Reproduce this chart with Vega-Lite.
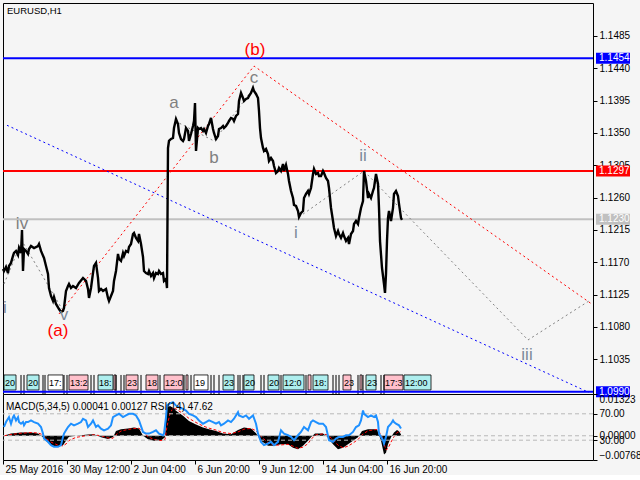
{
"$schema": "https://vega.github.io/schema/vega-lite/v6.json",
"background": "#f5f5f5",
"padding": {"left": -3, "top": 2, "right": 0, "bottom": 0},
"spacing": 0,
"bounds": "flush",
"config": {
  "font": "Liberation Sans",
  "view": {"stroke": "#000000", "strokeWidth": 1, "fill": "#f5f5f5"},
  "axis": {"labelFont": "Liberation Sans", "labelFontSize": 10, "labelColor": "#000000", "tickColor": "#000000", "domain": false, "grid": false, "tickSize": 4, "labelPadding": 2, "labelOverlap": false}
},
"datasets": {
  "px": [{"i":0,"p":1.11607},{"i":1,"p":1.11579},{"i":3,"p":1.11635},{"i":5,"p":1.11551},{"i":6,"p":1.11649},{"i":8,"p":1.11691},{"i":10,"p":1.11788},{"i":11,"p":1.1183},{"i":13,"p":1.11858},{"i":15,"p":1.11802},{"i":16,"p":1.11899},{"i":18,"p":1.1183},{"i":19,"p":1.1215},{"i":20,"p":1.11579},{"i":21,"p":1.11885},{"i":23,"p":1.11858},{"i":25,"p":1.11816},{"i":26,"p":1.11885},{"i":28,"p":1.11927},{"i":31,"p":1.11899},{"i":35,"p":1.11927},{"i":36,"p":1.11955},{"i":38,"p":1.11858},{"i":41,"p":1.1176},{"i":43,"p":1.11649},{"i":45,"p":1.11537},{"i":46,"p":1.11342},{"i":48,"p":1.11231},{"i":50,"p":1.11162},{"i":51,"p":1.11217},{"i":53,"p":1.1112},{"i":56,"p":1.1105},{"i":58,"p":1.11008},{"i":60,"p":1.11022},{"i":61,"p":1.11064},{"i":63,"p":1.11301},{"i":65,"p":1.1137},{"i":66,"p":1.11398},{"i":68,"p":1.11342},{"i":70,"p":1.1137},{"i":73,"p":1.11342},{"i":76,"p":1.11412},{"i":80,"p":1.11482},{"i":83,"p":1.1144},{"i":85,"p":1.11329},{"i":86,"p":1.11204},{"i":88,"p":1.11342},{"i":90,"p":1.11551},{"i":91,"p":1.11649},{"i":93,"p":1.11691},{"i":95,"p":1.11482},{"i":96,"p":1.11301},{"i":98,"p":1.11329},{"i":100,"p":1.11301},{"i":103,"p":1.11329},{"i":105,"p":1.11204},{"i":106,"p":1.11162},{"i":108,"p":1.11231},{"i":110,"p":1.11301},{"i":111,"p":1.1144},{"i":113,"p":1.11579},{"i":115,"p":1.11816},{"i":116,"p":1.11746},{"i":118,"p":1.11718},{"i":120,"p":1.1183},{"i":121,"p":1.11788},{"i":123,"p":1.11858},{"i":125,"p":1.11844},{"i":126,"p":1.11913},{"i":128,"p":1.11955},{"i":130,"p":1.12094},{"i":131,"p":1.12108},{"i":133,"p":1.12039},{"i":135,"p":1.11997},{"i":136,"p":1.12094},{"i":138,"p":1.11955},{"i":140,"p":1.11774},{"i":141,"p":1.11579},{"i":143,"p":1.11551},{"i":145,"p":1.11537},{"i":146,"p":1.11579},{"i":148,"p":1.1151},{"i":150,"p":1.11551},{"i":151,"p":1.11482},{"i":153,"p":1.11551},{"i":155,"p":1.11537},{"i":156,"p":1.11579},{"i":158,"p":1.11537},{"i":160,"p":1.11551},{"i":161,"p":1.1144},{"i":163,"p":1.11468},{"i":164,"p":1.11342},{"i":165,"p":1.13291},{"i":166,"p":1.13389},{"i":168,"p":1.13416},{"i":170,"p":1.1343},{"i":171,"p":1.13569},{"i":173,"p":1.13695},{"i":175,"p":1.13625},{"i":176,"p":1.135},{"i":178,"p":1.13416},{"i":180,"p":1.13389},{"i":181,"p":1.13416},{"i":183,"p":1.13569},{"i":185,"p":1.13528},{"i":186,"p":1.13389},{"i":188,"p":1.13486},{"i":190,"p":1.13597},{"i":191,"p":1.13667},{"i":192,"p":1.13917},{"i":193,"p":1.13249},{"i":195,"p":1.13569},{"i":196,"p":1.13555},{"i":198,"p":1.13569},{"i":200,"p":1.13528},{"i":201,"p":1.13555},{"i":203,"p":1.135},{"i":205,"p":1.13597},{"i":206,"p":1.13625},{"i":208,"p":1.13709},{"i":210,"p":1.13555},{"i":211,"p":1.135},{"i":213,"p":1.13416},{"i":215,"p":1.13458},{"i":216,"p":1.13555},{"i":218,"p":1.13569},{"i":220,"p":1.13597},{"i":221,"p":1.13569},{"i":223,"p":1.13597},{"i":225,"p":1.13639},{"i":226,"p":1.13667},{"i":228,"p":1.13709},{"i":230,"p":1.13695},{"i":231,"p":1.13667},{"i":233,"p":1.13736},{"i":235,"p":1.13764},{"i":236,"p":1.13945},{"i":238,"p":1.14057},{"i":240,"p":1.13987},{"i":241,"p":1.13945},{"i":243,"p":1.13973},{"i":245,"p":1.13987},{"i":246,"p":1.14015},{"i":248,"p":1.14057},{"i":250,"p":1.14128},{"i":251,"p":1.14084},{"i":253,"p":1.14043},{"i":255,"p":1.13987},{"i":256,"p":1.13806},{"i":257,"p":1.13569},{"i":258,"p":1.1343},{"i":260,"p":1.13291},{"i":261,"p":1.13249},{"i":263,"p":1.13277},{"i":265,"p":1.13207},{"i":266,"p":1.1311},{"i":268,"p":1.13152},{"i":270,"p":1.1311},{"i":271,"p":1.13041},{"i":273,"p":1.12943},{"i":275,"p":1.12971},{"i":276,"p":1.13013},{"i":278,"p":1.12971},{"i":280,"p":1.13068},{"i":281,"p":1.12971},{"i":283,"p":1.13054},{"i":285,"p":1.12929},{"i":286,"p":1.12832},{"i":288,"p":1.12693},{"i":290,"p":1.12595},{"i":291,"p":1.12498},{"i":293,"p":1.12484},{"i":295,"p":1.12414},{"i":296,"p":1.12331},{"i":298,"p":1.12386},{"i":300,"p":1.12414},{"i":301,"p":1.12595},{"i":303,"p":1.12651},{"i":305,"p":1.12693},{"i":306,"p":1.12651},{"i":308,"p":1.12734},{"i":310,"p":1.12929},{"i":311,"p":1.12999},{"i":313,"p":1.12929},{"i":315,"p":1.12943},{"i":316,"p":1.12901},{"i":318,"p":1.12901},{"i":320,"p":1.12971},{"i":321,"p":1.12943},{"i":323,"p":1.12874},{"i":325,"p":1.12832},{"i":326,"p":1.12734},{"i":328,"p":1.12456},{"i":330,"p":1.12275},{"i":331,"p":1.12178},{"i":333,"p":1.12066},{"i":335,"p":1.12136},{"i":336,"p":1.12094},{"i":338,"p":1.12039},{"i":340,"p":1.12108},{"i":341,"p":1.12066},{"i":343,"p":1.11997},{"i":345,"p":1.12039},{"i":346,"p":1.11955},{"i":348,"p":1.12094},{"i":350,"p":1.12136},{"i":351,"p":1.12233},{"i":353,"p":1.12275},{"i":355,"p":1.12233},{"i":356,"p":1.12317},{"i":358,"p":1.12456},{"i":360,"p":1.12553},{"i":361,"p":1.12971},{"i":363,"p":1.12832},{"i":365,"p":1.12595},{"i":366,"p":1.12651},{"i":368,"p":1.12595},{"i":370,"p":1.12693},{"i":371,"p":1.12734},{"i":373,"p":1.12929},{"i":375,"p":1.1279},{"i":376,"p":1.12456},{"i":377,"p":1.11997},{"i":379,"p":1.11621},{"i":381,"p":1.11398},{"i":382,"p":1.11273},{"i":383,"p":1.11537},{"i":384,"p":1.11997},{"i":385,"p":1.12317},{"i":386,"p":1.12414},{"i":388,"p":1.12275},{"i":390,"p":1.12456},{"i":391,"p":1.12651},{"i":393,"p":1.12693},{"i":395,"p":1.12623},{"i":396,"p":1.12512},{"i":398,"p":1.12317},{"i":399,"p":1.1229}],
  "levels": [{"p":1.1454,"k":"b"},{"p":1.1297,"k":"r"},{"p":1.1230,"k":"g"},{"p":1.0990,"k":"b"}],
  "trend": [
    {"i":56,"p":1.10981,"s":"red","k":"r"},{"i":251,"p":1.14432,"s":"red","k":"r"},{"i":588,"p":1.11127,"s":"red","k":"r"},
    {"i":4,"p":1.13607,"s":"blue","k":"b"},{"i":586,"p":1.09888,"s":"blue","k":"b"},
    {"i":1,"p":1.11398,"s":"g1","k":"d"},{"i":19,"p":1.11997,"s":"g1","k":"d"},{"i":59,"p":1.1105,"s":"g1","k":"d"},
    {"i":172,"p":1.13667,"s":"g2","k":"d"},{"i":211,"p":1.13389,"s":"g2","k":"d"},{"i":250,"p":1.14112,"s":"g2","k":"d"},
    {"i":296,"p":1.12331,"s":"g3","k":"d"},{"i":361,"p":1.12971,"s":"g3","k":"d"},{"i":525,"p":1.10619,"s":"g3","k":"d"},{"i":586,"p":1.11162,"s":"g3","k":"d"}
  ],
  "waves": [
    {"i":252,"p":1.14655,"t":"(b)","k":"r"},{"i":251,"p":1.14265,"t":"c","k":"d"},{"i":171,"p":1.13917,"t":"a","k":"d"},{"i":211,"p":1.13152,"t":"b","k":"d"},
    {"i":19,"p":1.12233,"t":"iv","k":"d"},{"i":293,"p":1.12108,"t":"i","k":"s"},{"i":360,"p":1.1318,"t":"ii","k":"s"},{"i":524,"p":1.1041,"t":"iii","k":"s"},
    {"i":61,"p":1.10967,"t":"v","k":"s"},{"i":55,"p":1.10744,"t":"(a)","k":"r"}
  ],
  "sess": [
    {"a":1,"b":13,"t":"20","c":"c"},{"a":24,"b":36,"t":"20","c":"c"},{"a":45,"b":60,"t":"17:","c":"w"},{"a":66,"b":85,"t":"13:2","c":"p"},
    {"a":95,"b":110,"t":"18:","c":"c"},{"a":111,"b":113,"t":"","c":"p"},{"a":123,"b":135,"t":"23","c":"p"},{"a":143,"b":155,"t":"18","c":"p"},
    {"a":161,"b":180,"t":"12:0","c":"p"},{"a":183,"b":185,"t":"","c":"p"},{"a":191,"b":205,"t":"19","c":"w"},{"a":220,"b":231,"t":"23","c":"c"},
    {"a":241,"b":251,"t":"20","c":"c"},{"a":265,"b":276,"t":"20","c":"c"},{"a":280,"b":301,"t":"12:0","c":"c"},{"a":305,"b":308,"t":"","c":"p"},
    {"a":310,"b":325,"t":"18:","c":"c"},{"a":340,"b":348,"t":"23","c":"p"},{"a":357,"b":359,"t":"","c":"p"},{"a":363,"b":373,"t":"23","c":"c"},
    {"a":381,"b":400,"t":"17:3","c":"p"},{"a":401,"b":428,"t":"12:00","c":"c"}
  ],
  "seps": [{"i":18},{"i":21},{"i":40},{"i":42},{"i":61},{"i":64},{"i":88},{"i":91},{"i":113},{"i":118},{"i":121},{"i":138},{"i":157},{"i":181},{"i":188},{"i":208},{"i":211},{"i":216},{"i":235},{"i":237},{"i":240},{"i":258},{"i":261},{"i":278},{"i":303},{"i":330},{"i":333},{"i":336},{"i":355},{"i":360},{"i":378},{"i":381}],
  "macd": [{"i":1,"m":0,"s":0},{"i":8,"m":0.0007,"s":0.0004},{"i":18,"m":0.001,"s":0.0008},{"i":28,"m":0.001,"s":0.001},{"i":35,"m":0.0007,"s":0.0009},{"i":40,"m":-0.0005,"s":0.0003},{"i":43,"m":-0.0016,"s":-0.0008},{"i":48,"m":-0.003,"s":-0.002},{"i":55,"m":-0.0035,"s":-0.003},{"i":60,"m":-0.003,"s":-0.0032},{"i":63,"m":-0.0016,"s":-0.0026},{"i":66,"m":-0.0003,"s":-0.0015},{"i":73,"m":0,"s":-0.0005},{"i":85,"m":0.0004,"s":0.0001},{"i":91,"m":0.0005,"s":0.0003},{"i":98,"m":-0.0005,"s":0},{"i":105,"m":-0.001,"s":-0.0007},{"i":110,"m":-0.0005,"s":-0.0008},{"i":113,"m":0.0015,"s":0.0003},{"i":118,"m":0.0021,"s":0.0015},{"i":125,"m":0.0023,"s":0.002},{"i":131,"m":0.0026,"s":0.0023},{"i":136,"m":0.0023,"s":0.0024},{"i":140,"m":0,"s":0.0012},{"i":145,"m":-0.0011,"s":-0.0003},{"i":151,"m":-0.0016,"s":-0.0012},{"i":158,"m":-0.0015,"s":-0.0015},{"i":162,"m":-0.0005,"s":-0.0012},{"i":164,"m":0.0089,"s":0.003},{"i":167,"m":0.0094,"s":0.007},{"i":170,"m":0.0089,"s":0.0088},{"i":173,"m":0.0079,"s":0.0085},{"i":180,"m":0.0063,"s":0.007},{"i":186,"m":0.0047,"s":0.0055},{"i":193,"m":0.0036,"s":0.0042},{"i":200,"m":0.0026,"s":0.0031},{"i":206,"m":0.0021,"s":0.0024},{"i":213,"m":0.0015,"s":0.0018},{"i":220,"m":0.0007,"s":0.001},{"i":228,"m":0.0005,"s":0.0007},{"i":235,"m":0.0018,"s":0.0012},{"i":241,"m":0.0026,"s":0.0021},{"i":248,"m":0.0023,"s":0.0023},{"i":253,"m":0.0008,"s":0.0016},{"i":258,"m":-0.0016,"s":-0.0002},{"i":265,"m":-0.0032,"s":-0.0022},{"i":271,"m":-0.0032,"s":-0.003},{"i":278,"m":-0.0027,"s":-0.0029},{"i":285,"m":-0.0027,"s":-0.0027},{"i":290,"m":-0.0038,"s":-0.0033},{"i":295,"m":-0.0043,"s":-0.004},{"i":300,"m":-0.0032,"s":-0.0036},{"i":305,"m":-0.0016,"s":-0.0025},{"i":308,"m":-0.0005,"s":-0.0012},{"i":312,"m":0.0007,"s":0.0002},{"i":320,"m":0.0007,"s":0.0006},{"i":324,"m":-0.0002,"s":0.0003},{"i":330,"m":-0.0027,"s":-0.0012},{"i":335,"m":-0.0043,"s":-0.003},{"i":340,"m":-0.0038,"s":-0.0038},{"i":345,"m":-0.0027,"s":-0.0033},{"i":350,"m":-0.0016,"s":-0.0023},{"i":355,"m":-0.0005,"s":-0.0012},{"i":359,"m":0.0015,"s":0.0003},{"i":365,"m":0.0021,"s":0.0016},{"i":374,"m":0.0021,"s":0.002},{"i":378,"m":-0.0016,"s":0.0005},{"i":381,"m":-0.0059,"s":-0.0025},{"i":383,"m":-0.0054,"s":-0.0045},{"i":385,"m":-0.0027,"s":-0.004},{"i":388,"m":-0.0005,"s":-0.002},{"i":391,"m":0.001,"s":-0.0003},{"i":394,"m":0.0018,"s":0.001},{"i":396,"m":0.0014,"s":0.0013},{"i":398,"m":0.00041,"s":0.00127}],
  "rsi": [{"i":1,"r":50},{"i":3,"r":57.5},{"i":6,"r":65},{"i":8,"r":55},{"i":10,"r":65},{"i":11,"r":67.5},{"i":13,"r":60},{"i":15,"r":65},{"i":16,"r":57.5},{"i":18,"r":55},{"i":20,"r":57.5},{"i":21,"r":52.5},{"i":23,"r":57.5},{"i":25,"r":57.5},{"i":28,"r":60},{"i":31,"r":57.5},{"i":35,"r":55},{"i":38,"r":50},{"i":40,"r":40},{"i":41,"r":32.5},{"i":45,"r":27.5},{"i":48,"r":22.5},{"i":51,"r":20},{"i":55,"r":20},{"i":58,"r":22.5},{"i":60,"r":35},{"i":61,"r":40},{"i":63,"r":45},{"i":65,"r":50},{"i":68,"r":55},{"i":71,"r":52.5},{"i":75,"r":55},{"i":78,"r":57.5},{"i":80,"r":62.5},{"i":83,"r":60},{"i":85,"r":50},{"i":88,"r":55},{"i":90,"r":60},{"i":93,"r":50},{"i":95,"r":52.5},{"i":98,"r":47.5},{"i":101,"r":45},{"i":105,"r":47.5},{"i":108,"r":52.5},{"i":110,"r":65},{"i":113,"r":67.5},{"i":116,"r":70},{"i":120,"r":65},{"i":123,"r":67.5},{"i":126,"r":70},{"i":130,"r":70},{"i":133,"r":67.5},{"i":136,"r":60},{"i":140,"r":42.5},{"i":143,"r":40},{"i":146,"r":40},{"i":150,"r":42.5},{"i":153,"r":45},{"i":156,"r":40},{"i":160,"r":37.5},{"i":161,"r":40},{"i":163,"r":65},{"i":164,"r":82.5},{"i":166,"r":85},{"i":170,"r":87.5},{"i":173,"r":82.5},{"i":176,"r":80},{"i":180,"r":77.5},{"i":183,"r":75},{"i":186,"r":70},{"i":190,"r":67.5},{"i":193,"r":65},{"i":196,"r":60},{"i":200,"r":55},{"i":203,"r":57.5},{"i":206,"r":60},{"i":210,"r":57.5},{"i":213,"r":55},{"i":216,"r":57.5},{"i":218,"r":52.5},{"i":221,"r":55},{"i":225,"r":60},{"i":228,"r":57.5},{"i":231,"r":62.5},{"i":235,"r":72.5},{"i":236,"r":67.5},{"i":240,"r":65},{"i":243,"r":67.5},{"i":246,"r":62.5},{"i":250,"r":67.5},{"i":253,"r":55},{"i":255,"r":40},{"i":258,"r":27.5},{"i":261,"r":22.5},{"i":265,"r":25},{"i":268,"r":27.5},{"i":271,"r":22.5},{"i":275,"r":27.5},{"i":278,"r":45},{"i":281,"r":40},{"i":285,"r":37.5},{"i":288,"r":35},{"i":291,"r":30},{"i":295,"r":37.5},{"i":298,"r":42.5},{"i":301,"r":50},{"i":305,"r":45},{"i":308,"r":57.5},{"i":310,"r":60},{"i":313,"r":57.5},{"i":316,"r":55},{"i":320,"r":55},{"i":323,"r":50},{"i":326,"r":30},{"i":330,"r":27.5},{"i":333,"r":32.5},{"i":336,"r":35},{"i":340,"r":35},{"i":343,"r":37.5},{"i":346,"r":37.5},{"i":350,"r":42.5},{"i":353,"r":50},{"i":356,"r":52.5},{"i":358,"r":60},{"i":360,"r":75},{"i":361,"r":70},{"i":365,"r":65},{"i":368,"r":67.5},{"i":371,"r":65},{"i":373,"r":67.5},{"i":375,"r":57.5},{"i":376,"r":40},{"i":380,"r":30},{"i":381,"r":25},{"i":383,"r":35},{"i":385,"r":50},{"i":388,"r":55},{"i":390,"r":60},{"i":391,"r":57.5},{"i":393,"r":55},{"i":396,"r":52.5},{"i":398,"r":47.6}]
},
"vconcat": [
  {
    "width": 590,
    "height": 391,
    "layer": [
      {"data": {"name": "sess"}, "mark": {"type": "rect", "stroke": "#000000", "strokeWidth": 0.8},
       "encoding": {"x": {"field": "a", "type": "quantitative", "scale": {"domain": [0, 590], "nice": false, "zero": false, "padding": 0}, "axis": null},
                    "x2": {"field": "b"},
                    "y": {"datum": 1.10132, "scale": {"domain": [1.09867, 1.15309], "nice": false, "zero": false, "padding": 0}, "axis": {"orient": "right", "title": null, "values": [1.1035, 1.108, 1.1125, 1.117, 1.1215, 1.126, 1.1305, 1.135, 1.1395, 1.144, 1.1485], "format": ".4f", "labelOverlap": false, "labelBound": false}},
                    "y2": {"datum": 1.09923},
                    "fill": {"field": "c", "type": "nominal", "scale": {"domain": ["c", "p", "w"], "range": ["#aeeeee", "#ffc0cb", "#ffffff"]}, "legend": null}}},
      {"data": {"name": "sess"}, "mark": {"type": "text", "align": "left", "baseline": "middle", "fontSize": 9, "dx": 1, "color": "#000000"},
       "encoding": {"x": {"field": "a", "type": "quantitative", "scale": {"domain": [0, 590], "nice": false, "zero": false, "padding": 0}, "axis": null},
                    "y": {"datum": 1.10027, "scale": {"domain": [1.09867, 1.15309], "nice": false, "zero": false, "padding": 0}, "axis": {"orient": "right", "title": null, "values": [1.1035, 1.108, 1.1125, 1.117, 1.1215, 1.126, 1.1305, 1.135, 1.1395, 1.144, 1.1485], "format": ".4f", "labelOverlap": false, "labelBound": false}},
                    "text": {"field": "t"}}},
      {"data": {"name": "seps"}, "mark": {"type": "rule", "color": "#000000", "strokeWidth": 1},
       "encoding": {"x": {"field": "i", "type": "quantitative", "scale": {"domain": [0, 590], "nice": false, "zero": false, "padding": 0}, "axis": null},
                    "y": {"datum": 1.10132, "scale": {"domain": [1.09867, 1.15309], "nice": false, "zero": false, "padding": 0}, "axis": {"orient": "right", "title": null, "values": [1.1035, 1.108, 1.1125, 1.117, 1.1215, 1.126, 1.1305, 1.135, 1.1395, 1.144, 1.1485], "format": ".4f", "labelOverlap": false, "labelBound": false}},
                    "y2": {"datum": 1.09867}}},
      {"data": {"name": "levels"}, "mark": {"type": "rule"},
       "encoding": {"y": {"field": "p", "type": "quantitative", "scale": {"domain": [1.09867, 1.15309], "nice": false, "zero": false, "padding": 0}, "axis": {"orient": "right", "title": null, "values": [1.1035, 1.108, 1.1125, 1.117, 1.1215, 1.126, 1.1305, 1.135, 1.1395, 1.144, 1.1485], "format": ".4f", "labelOverlap": false, "labelBound": false}},
                    "color": {"field": "k", "type": "nominal", "scale": {"domain": ["b", "r", "g", "d", "s"], "range": ["#0000ff", "#ff0000", "#c0c0c0", "#808080", "#7b8a9a"]}, "legend": null},
                    "size": {"field": "k", "type": "ordinal", "scale": {"domain": ["b", "r", "g"], "range": [2, 2, 1]}, "legend": null}}},
      {"data": {"name": "trend"}, "mark": {"type": "line", "strokeDash": [2, 3], "strokeWidth": 1},
       "encoding": {"x": {"field": "i", "type": "quantitative", "scale": {"domain": [0, 590], "nice": false, "zero": false, "padding": 0}, "axis": null},
                    "y": {"field": "p", "type": "quantitative", "scale": {"domain": [1.09867, 1.15309], "nice": false, "zero": false, "padding": 0}, "axis": {"orient": "right", "title": null, "values": [1.1035, 1.108, 1.1125, 1.117, 1.1215, 1.126, 1.1305, 1.135, 1.1395, 1.144, 1.1485], "format": ".4f", "labelOverlap": false, "labelBound": false}},
                    "detail": {"field": "s"},
                    "color": {"field": "k", "type": "nominal", "scale": {"domain": ["b", "r", "g", "d", "s"], "range": ["#0000ff", "#ff0000", "#c0c0c0", "#808080", "#7b8a9a"]}, "legend": null}}},
      {"data": {"name": "px"}, "mark": {"type": "line", "color": "#000000", "strokeWidth": 2.4},
       "encoding": {"x": {"field": "i", "type": "quantitative", "scale": {"domain": [0, 590], "nice": false, "zero": false, "padding": 0}, "axis": null},
                    "y": {"field": "p", "type": "quantitative", "scale": {"domain": [1.09867, 1.15309], "nice": false, "zero": false, "padding": 0}, "axis": {"orient": "right", "title": null, "values": [1.1035, 1.108, 1.1125, 1.117, 1.1215, 1.126, 1.1305, 1.135, 1.1395, 1.144, 1.1485], "format": ".4f", "labelOverlap": false, "labelBound": false}}}},
      {"data": {"name": "waves"}, "mark": {"type": "text", "fontSize": 17, "align": "center", "baseline": "middle"},
       "encoding": {"x": {"field": "i", "type": "quantitative", "scale": {"domain": [0, 590], "nice": false, "zero": false, "padding": 0}, "axis": null},
                    "y": {"field": "p", "type": "quantitative", "scale": {"domain": [1.09867, 1.15309], "nice": false, "zero": false, "padding": 0}, "axis": {"orient": "right", "title": null, "values": [1.1035, 1.108, 1.1125, 1.117, 1.1215, 1.126, 1.1305, 1.135, 1.1395, 1.144, 1.1485], "format": ".4f", "labelOverlap": false, "labelBound": false}},
                    "text": {"field": "t"},
                    "color": {"field": "k", "type": "nominal", "scale": {"domain": ["b", "r", "g", "d", "s"], "range": ["#0000ff", "#ff0000", "#c0c0c0", "#808080", "#7b8a9a"]}, "legend": null}}},
      {"data": {"values": [{"i": 0, "p": 1.11064, "t": "i"}]}, "mark": {"type": "text", "fontSize": 17, "align": "left", "baseline": "middle", "color": "#7b8a9a"},
       "encoding": {"x": {"field": "i", "type": "quantitative", "scale": {"domain": [0, 590], "nice": false, "zero": false, "padding": 0}, "axis": null},
                    "y": {"field": "p", "type": "quantitative", "scale": {"domain": [1.09867, 1.15309], "nice": false, "zero": false, "padding": 0}, "axis": {"orient": "right", "title": null, "values": [1.1035, 1.108, 1.1125, 1.117, 1.1215, 1.126, 1.1305, 1.135, 1.1395, 1.144, 1.1485], "format": ".4f", "labelOverlap": false, "labelBound": false}},
                    "text": {"field": "t"}}},
      {"data": {"values": [{"i": 4, "p": 1.15198, "t": "EURUSD,H1"}]}, "mark": {"type": "text", "align": "left", "baseline": "middle", "fontSize": 9.5, "color": "#000000"},
       "encoding": {"x": {"field": "i", "type": "quantitative", "scale": {"domain": [0, 590], "nice": false, "zero": false, "padding": 0}, "axis": null},
                    "y": {"field": "p", "type": "quantitative", "scale": {"domain": [1.09867, 1.15309], "nice": false, "zero": false, "padding": 0}, "axis": {"orient": "right", "title": null, "values": [1.1035, 1.108, 1.1125, 1.117, 1.1215, 1.126, 1.1305, 1.135, 1.1395, 1.144, 1.1485], "format": ".4f", "labelOverlap": false, "labelBound": false}},
                    "text": {"field": "t"}}},
      {"data": {"name": "levels"}, "mark": {"type": "bar", "height": 11, "orient": "horizontal"},
       "encoding": {"x": {"datum": 593, "axis": null}, "x2": {"datum": 627},
                    "y": {"field": "p", "type": "quantitative", "scale": {"domain": [1.09867, 1.15309], "nice": false, "zero": false, "padding": 0}, "axis": {"orient": "right", "title": null, "values": [1.1035, 1.108, 1.1125, 1.117, 1.1215, 1.126, 1.1305, 1.135, 1.1395, 1.144, 1.1485], "format": ".4f", "labelOverlap": false, "labelBound": false}},
                    "color": {"field": "k", "type": "nominal", "scale": {"domain": ["b", "r", "g", "d", "s"], "range": ["#0000ff", "#ff0000", "#c0c0c0", "#808080", "#7b8a9a"]}, "legend": null}}},
      {"data": {"name": "levels"}, "mark": {"type": "text", "align": "left", "baseline": "middle", "fontSize": 10, "color": "#ffffff"},
       "encoding": {"x": {"datum": 596, "axis": null},
                    "y": {"field": "p", "type": "quantitative", "scale": {"domain": [1.09867, 1.15309], "nice": false, "zero": false, "padding": 0}, "axis": {"orient": "right", "title": null, "values": [1.1035, 1.108, 1.1125, 1.117, 1.1215, 1.126, 1.1305, 1.135, 1.1395, 1.144, 1.1485], "format": ".4f", "labelOverlap": false, "labelBound": false}},
                    "text": {"field": "p", "type": "quantitative", "format": ".4f"}}}
    ]
  },
  {
    "width": 590,
    "height": 66,
    "layer": [
      {"layer": [
        {"data": {"name": "macd"}, "mark": {"type": "area", "color": "#000000"},
         "encoding": {"x": {"field": "i", "type": "quantitative", "scale": {"domain": [0, 590], "nice": false, "zero": false, "padding": 0}, "axis": {"title": null, "values": [0, 64, 128, 192, 256, 320, 384], "labelExpr": "['25 May 2016','30 May 12:00','2 Jun 04:00','6 Jun 20:00','9 Jun 12:00','14 Jun 04:00','16 Jun 20:00'][round(datum.value/64)]", "labelAlign": "left", "labelOffset": 2, "labelPadding": 0, "labelOverlap": false, "labelBound": false, "labelFlush": false}},
                      "y": {"field": "m", "type": "quantitative", "scale": {"domain": [-0.00768, 0.01323], "nice": false, "zero": false, "padding": 0}, "axis": {"orient": "right", "title": null, "values": [-0.00768, 0, 0.01323], "format": ".5f", "labelFlush": true, "labelOverlap": false}},
                      "y2": {"datum": 0}}},
        {"data": {"name": "macd"}, "mark": {"type": "line", "color": "#ff0000", "strokeWidth": 1, "strokeDash": [3, 2]},
         "encoding": {"x": {"field": "i", "type": "quantitative", "scale": {"domain": [0, 590], "nice": false, "zero": false, "padding": 0}, "axis": {"title": null, "values": [0, 64, 128, 192, 256, 320, 384], "labelExpr": "['25 May 2016','30 May 12:00','2 Jun 04:00','6 Jun 20:00','9 Jun 12:00','14 Jun 04:00','16 Jun 20:00'][round(datum.value/64)]", "labelAlign": "left", "labelOffset": 2, "labelPadding": 0, "labelOverlap": false, "labelBound": false, "labelFlush": false}},
                      "y": {"field": "s", "type": "quantitative", "scale": {"domain": [-0.00768, 0.01323], "nice": false, "zero": false, "padding": 0}, "axis": {"orient": "right", "title": null, "values": [-0.00768, 0, 0.01323], "format": ".5f", "labelFlush": true, "labelOverlap": false}}}},
        {"data": {"values": [{"m": 0}]}, "mark": {"type": "rule", "color": "#b8b8b8", "strokeDash": [4, 3]},
         "encoding": {"y": {"field": "m", "type": "quantitative", "scale": {"domain": [-0.00768, 0.01323], "nice": false, "zero": false, "padding": 0}, "axis": {"orient": "right", "title": null, "values": [-0.00768, 0, 0.01323], "format": ".5f", "labelFlush": true, "labelOverlap": false}}}}
      ]},
      {"layer": [
        {"data": {"values": [{"r": 30}, {"r": 70}]}, "mark": {"type": "rule", "color": "#b8b8b8", "strokeDash": [4, 3]},
         "encoding": {"y": {"field": "r", "type": "quantitative", "scale": {"domain": [0, 100], "nice": false, "zero": false, "padding": 0}, "axis": {"orient": "right", "title": null, "values": [30, 70], "format": ".2f", "labelOverlap": false}}}},
        {"data": {"name": "rsi"}, "mark": {"type": "line", "color": "#1e90ff", "strokeWidth": 2},
         "encoding": {"x": {"field": "i", "type": "quantitative", "scale": {"domain": [0, 590], "nice": false, "zero": false, "padding": 0}, "axis": {"title": null, "values": [0, 64, 128, 192, 256, 320, 384], "labelExpr": "['25 May 2016','30 May 12:00','2 Jun 04:00','6 Jun 20:00','9 Jun 12:00','14 Jun 04:00','16 Jun 20:00'][round(datum.value/64)]", "labelAlign": "left", "labelOffset": 2, "labelPadding": 0, "labelOverlap": false, "labelBound": false, "labelFlush": false}},
                      "y": {"field": "r", "type": "quantitative", "scale": {"domain": [0, 100], "nice": false, "zero": false, "padding": 0}, "axis": {"orient": "right", "title": null, "values": [30, 70], "format": ".2f", "labelOverlap": false}}}},
        {"data": {"values": [{"i": 3, "r": 81, "t": "MACD(5,34,5) 0.00041 0.00127 RSI(14) 47.62"}]}, "mark": {"type": "text", "align": "left", "baseline": "middle", "fontSize": 10, "color": "#000000"},
         "encoding": {"x": {"field": "i", "type": "quantitative", "scale": {"domain": [0, 590], "nice": false, "zero": false, "padding": 0}, "axis": {"title": null, "values": [0, 64, 128, 192, 256, 320, 384], "labelExpr": "['25 May 2016','30 May 12:00','2 Jun 04:00','6 Jun 20:00','9 Jun 12:00','14 Jun 04:00','16 Jun 20:00'][round(datum.value/64)]", "labelAlign": "left", "labelOffset": 2, "labelPadding": 0, "labelOverlap": false, "labelBound": false, "labelFlush": false}},
                      "y": {"field": "r", "type": "quantitative", "scale": {"domain": [0, 100], "nice": false, "zero": false, "padding": 0}, "axis": {"orient": "right", "title": null, "values": [30, 70], "format": ".2f", "labelOverlap": false}},
                      "text": {"field": "t"}}}
      ]}
    ],
    "resolve": {"scale": {"y": "independent"}, "axis": {"y": "independent"}}
  }
]
}
